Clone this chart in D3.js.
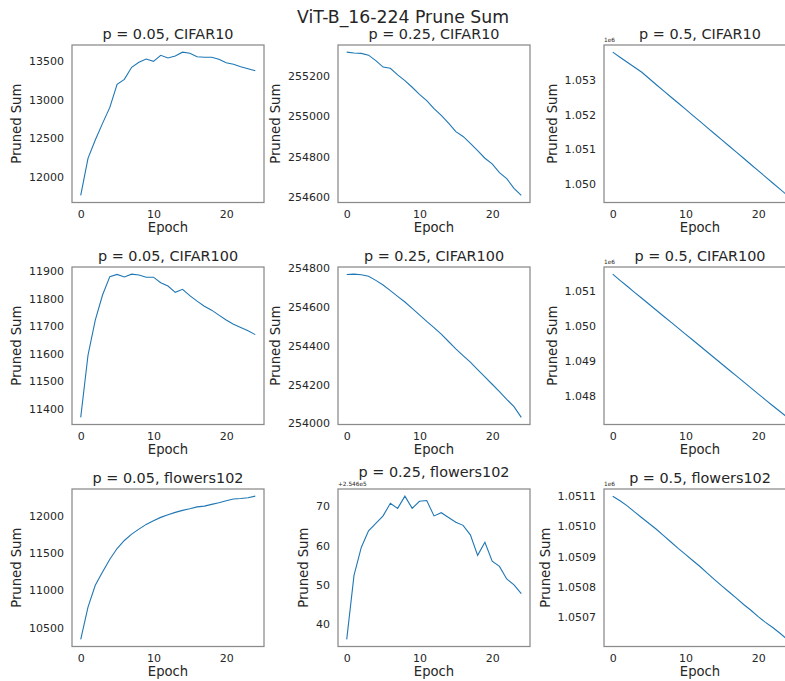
<!DOCTYPE html>
<html>
<head>
<meta charset="utf-8">
<script src="https://cdn.jsdelivr.net/npm/d3@7"></script>
<style>
  html, body { margin: 0; padding: 0; background: #ffffff; }
  svg { display: block; font-family: "DejaVu Sans", sans-serif; }
</style>
</head>
<body>
<svg id="chart" width="785" height="681"></svg>
<script>
// Pruned weight sums per training epoch, ViT-B_16-224
const epochs = d3.range(0, 25);
const xTicks = [0, 10, 20];

const cifar10_p005 = [11755, 12236, 12474, 12690, 12898, 13197, 13262, 13418, 13483, 13526,
  13496, 13574, 13539, 13565, 13615, 13600, 13556, 13548, 13548, 13522, 13478, 13457, 13426, 13400, 13374];
const cifar10_p025 = [255316, 255312, 255310, 255301, 255274, 255242, 255236, 255203, 255175, 255142,
  255107, 255076, 255036, 255003, 254964, 254922, 254898, 254864, 254828, 254790, 254762, 254719, 254689, 254641, 254606];
const cifar10_p05 = [1053776, 1053630, 1053487, 1053344, 1053200, 1053020, 1052843, 1052668, 1052492, 1052318,
  1052141, 1051966, 1051790, 1051614, 1051438, 1051262, 1051086, 1050910, 1050734, 1050557, 1050380, 1050203, 1050026, 1049850, 1049672];

const cifar100_p005 = [11367, 11593, 11721, 11812, 11879, 11887, 11878, 11888, 11885, 11877,
  11877, 11857, 11845, 11822, 11833, 11810, 11790, 11771, 11757, 11739, 11721, 11706, 11694, 11682, 11668];
const cifar100_p025 = [254766, 254768, 254765, 254757, 254736, 254712, 254683, 254653, 254624, 254591,
  254558, 254524, 254492, 254458, 254420, 254382, 254347, 254313, 254275, 254237, 254199, 254161, 254121, 254083, 254028];
const cifar100_p05 = [1051477, 1051300, 1051128, 1050955, 1050783, 1050612, 1050440, 1050268, 1050097, 1049925,
  1049753, 1049583, 1049411, 1049240, 1049067, 1048895, 1048722, 1048551, 1048380, 1048207, 1048035, 1047863, 1047692, 1047527, 1047360];

const flowers_p005 = [10337, 10769, 11060, 11239, 11409, 11552, 11660, 11745, 11812, 11875,
  11924, 11969, 12004, 12036, 12063, 12085, 12110, 12120, 12143, 12166, 12192, 12215, 12222, 12232, 12253];
const flowers_p025 = [254636.1, 254652.3, 254659.4, 254663.6, 254665.5, 254667.4, 254670.6, 254669.3, 254672.4, 254669.3,
  254671.1, 254671.3, 254667.4, 254668.2, 254667.0, 254665.8, 254665.0, 254662.6, 254657.4, 254660.7, 254655.9, 254654.6, 254651.4, 254649.9, 254647.7];
const flowers_p05 = [1051098, 1051083, 1051066, 1051046, 1051027, 1051008, 1050989, 1050968, 1050947, 1050926,
  1050906, 1050886, 1050866, 1050844, 1050823, 1050802, 1050782, 1050762, 1050741, 1050722, 1050701, 1050682, 1050665, 1050646, 1050626];

// y tick values per panel
const ticks_c10_005 = [12000, 12500, 13000, 13500];
const ticks_c10_025 = [254600, 254800, 255000, 255200];
const ticks_c10_05 = [1050000, 1051000, 1052000, 1053000];
const ticks_c100_005 = [11400, 11500, 11600, 11700, 11800, 11900];
const ticks_c100_025 = [254000, 254200, 254400, 254600, 254800];
const ticks_c100_05 = [1048000, 1049000, 1050000, 1051000];
const ticks_fl_005 = [10500, 11000, 11500, 12000];
const ticks_fl_025 = [254640, 254650, 254660, 254670];
const ticks_fl_05 = [1050700, 1050800, 1050900, 1051000, 1051100];

const titles = [
  "p = 0.05, CIFAR10", "p = 0.25, CIFAR10", "p = 0.5, CIFAR10",
  "p = 0.05, CIFAR100", "p = 0.25, CIFAR100", "p = 0.5, CIFAR100",
  "p = 0.05, flowers102", "p = 0.25, flowers102", "p = 0.5, flowers102"
];

const fmtInt = d => String(d);
const fmtMega3 = d => (d / 1e6).toFixed(3);
const fmtMega4 = d => (d / 1e6).toFixed(4);
const fmtOff = d => String(Math.round(d - 254600));

const panels = [
  { values: cifar10_p005, ticks: ticks_c10_005, fmt: fmtInt, offset: null },
  { values: cifar10_p025, ticks: ticks_c10_025, fmt: fmtInt, offset: null },
  { values: cifar10_p05, ticks: ticks_c10_05, fmt: fmtMega3, offset: "1e6" },
  { values: cifar100_p005, ticks: ticks_c100_005, fmt: fmtInt, offset: null },
  { values: cifar100_p025, ticks: ticks_c100_025, fmt: fmtInt, offset: null },
  { values: cifar100_p05, ticks: ticks_c100_05, fmt: fmtMega3, offset: "1e6" },
  { values: flowers_p005, ticks: ticks_fl_005, fmt: fmtInt, offset: null },
  { values: flowers_p025, ticks: ticks_fl_025, fmt: fmtOff, offset: "+2.546e5", raiseTitle: true },
  { values: flowers_p05, ticks: ticks_fl_05, fmt: fmtMega4, offset: "1e6" }
].map((p, i) => Object.assign(p, { title: titles[i] }));

const svg = d3.select("#chart");
const textColor = "#262626";
const frameColor = "#8a8a8a";
const lineColor = "#1f77b4";

const colLeft = [72, 338, 604];
const rowTop = [45, 267, 489];
const plotW = 192, plotH = 157.5;

svg.append("text")
  .attr("x", 403).attr("y", 23)
  .attr("text-anchor", "middle")
  .attr("font-size", 17.3)
  .attr("fill", textColor)
  .text("ViT-B_16-224 Prune Sum");

panels.forEach((p, i) => {
  const left = colLeft[i % 3], top = rowTop[Math.floor(i / 3)];
  const g = svg.append("g").attr("transform", `translate(${left},${top})`);

  const x = d3.scaleLinear().domain([-1.2, 25.2]).range([0, plotW]);
  const [lo, hi] = d3.extent(p.values);
  const pad = (hi - lo) * 0.05;
  const y = d3.scaleLinear().domain([lo - pad, hi + pad]).range([plotH, 0]);

  // data line
  g.append("path")
    .datum(p.values)
    .attr("fill", "none")
    .attr("stroke", lineColor)
    .attr("stroke-width", 1.1)
    .attr("d", d3.line().x((d, k) => x(epochs[k])).y(d => y(d)));

  // frame
  g.append("rect")
    .attr("x", 0).attr("y", 0).attr("width", plotW).attr("height", plotH)
    .attr("fill", "none").attr("stroke", frameColor).attr("stroke-width", 1.25);

  // x axis (tick labels only)
  const xAxis = d3.axisBottom(x).tickValues(xTicks).tickSize(0).tickPadding(0).tickFormat(d3.format("d"));
  const gx = g.append("g").attr("transform", `translate(0,${plotH})`).call(xAxis);
  gx.select(".domain").remove();
  gx.selectAll("text")
    .attr("y", 15.5).attr("dy", null)
    .attr("font-size", 11).attr("font-family", "DejaVu Sans").attr("fill", textColor);

  // y axis (tick labels only)
  const yAxis = d3.axisLeft(y).tickValues(p.ticks).tickSize(0).tickPadding(8).tickFormat(p.fmt);
  const gy = g.append("g").call(yAxis);
  gy.select(".domain").remove();
  gy.selectAll("text")
    .attr("dy", "0.36em")
    .attr("font-size", 11).attr("font-family", "DejaVu Sans").attr("fill", textColor);

  let maxW = 0;
  gy.selectAll("text").each(function () { maxW = Math.max(maxW, this.getComputedTextLength()); });

  // offset text
  if (p.offset) {
    g.append("text")
      .attr("x", 0).attr("y", -3)
      .attr("font-size", 5.8)
      .attr("fill", textColor)
      .text(p.offset);
  }

  // title, lifted above the offset text where they would collide
  g.append("text")
    .attr("x", plotW / 2).attr("y", p.raiseTitle ? -12 : -6)
    .attr("text-anchor", "middle")
    .attr("font-size", 14.4)
    .attr("fill", textColor)
    .text(p.title);

  // axis labels
  g.append("text")
    .attr("x", plotW / 2).attr("y", plotH + 29)
    .attr("text-anchor", "middle")
    .attr("font-size", 13.2)
    .attr("fill", textColor)
    .text("Epoch");

  const lx = -8 - maxW - 8;
  g.append("text")
    .attr("transform", `translate(${lx},${plotH / 2}) rotate(-90)`)
    .attr("text-anchor", "middle")
    .attr("font-size", 13.2)
    .attr("fill", textColor)
    .text("Pruned Sum");
});
</script>
</body>
</html>
